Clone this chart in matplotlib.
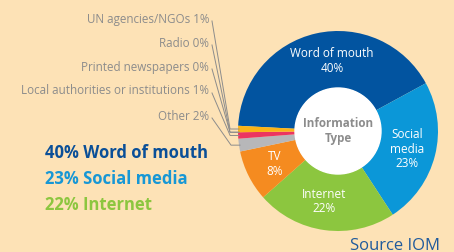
import numpy as np
import matplotlib.pyplot as plt

plt.rcParams['font.family'] = ['Open Sans', 'DejaVu Sans']

# data (percent)
categories = ['Word of mouth', 'Social media', 'Internet', 'TV', 'Other',
              'Local authorities or institutions', 'Printed newspapers', 'Radio',
              'UN agencies/NGOs']
values = [40, 23, 22, 8, 2, 1, 0, 0, 1]
colors = ['#0254a0', '#0b97d8', '#8cc63f', '#f58b20', '#b7b7b9',
          '#ec3560', '#d9d9d9', '#d9d9d9', '#fbb417']

inner_labels = {'Word of mouth': 'Word of mouth\n40%',
                'Social media': 'Social\nmedia\n23%',
                'Internet': 'Internet\n22%',
                'TV': 'TV\n8%'}
small = ['UN agencies/NGOs', 'Radio', 'Printed newspapers',
         'Local authorities or institutions', 'Other']
highlights = [('40% Word of mouth', '#0a4f98'),
              ('23% Social media', '#1797d5'),
              ('22% Internet', '#8cc63f')]

bg = '#fde2b6'
grey = '#8c8c8c'

fig = plt.figure(figsize=(4.54, 2.53), dpi=100, facecolor=bg)
ax = fig.add_axes([0, 0, 1, 1])
ax.set_facecolor(bg)

cx, cy, R = 338, 121, 100
wedges, _ = ax.pie(values, colors=colors, startangle=177, counterclock=False,
                   center=(cx, cy), radius=R,
                   wedgeprops=dict(width=R * 0.57, linewidth=0))
ax.add_patch(plt.Circle((cx, cy), R * 0.43, color='white', zorder=3))
ax.set_xlim(0, 454)
ax.set_ylim(0, 253)
ax.set_aspect('equal')
ax.axis('off')

# labels inside the ring (small angle nudge for the top one)
nudge = {'Word of mouth': -8, 'Internet': -4}
for w, name in zip(wedges, categories):
    if name in inner_labels:
        mid = np.deg2rad((w.theta1 + w.theta2) / 2 + nudge.get(name, 0))
        r = 0.71 * R
        ax.text(cx + r * np.cos(mid), cy + r * np.sin(mid), inner_labels[name],
                color='white', fontsize=8.5, ha='center', va='center',
                linespacing=1.15)

ax.text(cx, cy + 1, 'Information\nType', color=grey, fontsize=8.4,
        fontweight='bold', ha='center', va='center', linespacing=1.15,
        zorder=4)

# small slices: labels on the left with leader lines
label_y = [234, 210, 186, 162, 137]
for name, ly in zip(small, label_y):
    i = categories.index(name)
    w = wedges[i]
    ax.text(209, ly, f'{name} {values[i]}%', color=grey, fontsize=8.4,
            ha='right', va='center')
    mid = np.deg2rad((w.theta1 + w.theta2) / 2)
    ex, ey = cx + R * np.cos(mid), cy + R * np.sin(mid)
    ax.plot([212, ex - 8, ex + 1], [ly - 3, ey, ey], color=grey, lw=0.7)

# highlight text
for k, (txt, c) in enumerate(highlights):
    ax.text(45, 100 - k * 26, txt, color=c, fontsize=12, fontweight='bold',
            ha='left', va='center')

ax.text(440, 7, 'Source IOM', color='#1f5a9c', fontsize=12,
        ha='right', va='center')

fig.savefig('out.png', dpi=100, facecolor=bg)
